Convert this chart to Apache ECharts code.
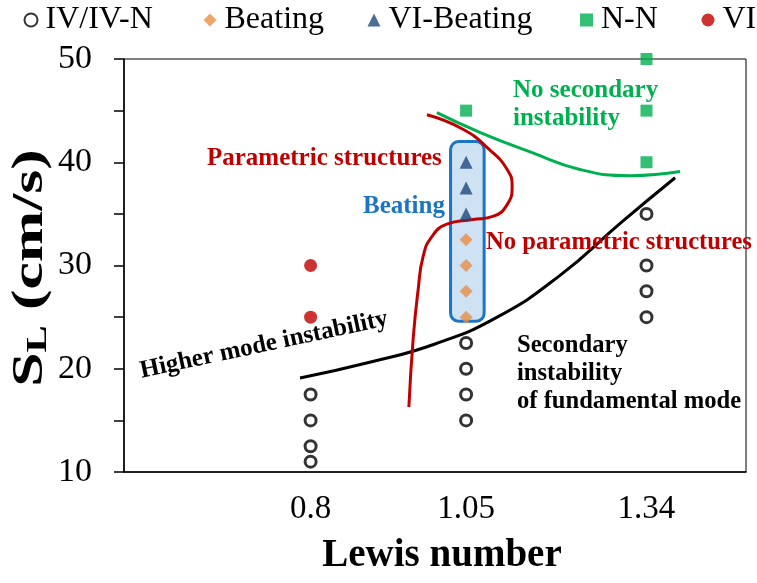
<!DOCTYPE html>
<html>
<head>
<meta charset="utf-8">
<script src="https://cdn.jsdelivr.net/npm/echarts@6/dist/echarts.min.js"></script>
<style>html,body{margin:0;padding:0;background:#fff}#c{width:757px;height:583px}</style>
</head>
<body>
<div id="c"></div>
<script>
// ---- data ----
const xTicks = [0.8, 1.05, 1.34];
const seriesNames = ['IV/IV-N', 'Beating', 'VI-Beating', 'N-N', 'VI'];
const ivData = [[0.8,17.5],[0.8,15],[0.8,12.5],[0.8,11],[1.05,22.5],[1.05,20],[1.05,17.5],[1.05,15],[1.34,35],[1.34,30],[1.34,27.5],[1.34,25]];
const beatingData = [[1.05,32.5],[1.05,30],[1.05,27.5],[1.05,25]];
const viBeatingData = [[1.05,40],[1.05,37.5],[1.05,35]];
const nnData = [[1.05,45],[1.34,50],[1.34,45],[1.34,40]];
const viData = [[0.8,30],[0.8,25]];
// boundary curves
const blackCurve = [[0.783,19.1],[0.9,20.7],[1.0,22.4],[1.1,25.0],[1.2,29.0],[1.3,34.2],[1.386,38.5]];
const greenCurve = [[1.003,44.8],[1.072,42.9],[1.153,41.0],[1.233,39.3],[1.314,38.7],[1.394,39.1]];
const redCurve = [[0.987,44.6],[1.045,43.2],[1.088,41.2],[1.116,39.3],[1.124,37.7],[1.116,35.9],[1.093,34.75],[1.061,34.45],[1.019,34.0],[0.995,32.8],[0.981,30.9],[0.973,27.7],[0.965,23.0],[0.958,16.3]];
const beatingBox = [[1.025, 24.6, 1.079, 42.0]];

const serif = "'Liberation Serif','Times New Roman',serif";
const chart = echarts.init(document.getElementById('c'));
function txt(text, x, y, color, size) {
  return {
    type: 'text', x: x, y: y, z: 100,
    style: { text: text, fill: color, font: 'bold ' + size + 'px ' + serif,
             align: 'left', verticalAlign: 'middle', lineHeight: 28 }
  };
}
const legendLefts = [23.5, 203.5, 367.5, 580, 701.5];
chart.setOption({
  animation: false,
  grid: { left: 124, right: 11, top: 59, bottom: 111, show: true, borderColor: '#000', borderWidth: 1 },
  legend: seriesNames.map((n, i) => ({
    data: [n], left: legendLefts[i], top: 4, itemWidth: 13, itemHeight: 13, padding: 0,
    textStyle: { fontFamily: serif, fontSize: 32, color: '#000', padding: [0, 0, 0, 3] }
  })),
  xAxis: {
    type: 'value', min: 0.5, max: 1.5,
    name: 'Lewis number', nameLocation: 'middle', nameGap: 64,
    nameTextStyle: { fontFamily: serif, fontSize: 39, fontWeight: 'bold', color: '#000', padding: [0, 0, 0, 14] },
    axisLine: { show: true, lineStyle: { color: '#000', width: 1.5 } },
    axisTick: { show: false },
    splitLine: { show: false },
    axisLabel: { customValues: xTicks, formatter: v => String(v), margin: 21, fontFamily: serif, fontSize: 33, color: '#000' }
  },
  yAxis: {
    type: 'value', min: 10, max: 50, interval: 5,
    axisLine: { show: true, lineStyle: { color: '#000', width: 1.5 } },
    axisTick: { show: true, inside: false, length: 10, lineStyle: { color: '#000', width: 1.5 } },
    splitLine: { show: false },
    axisLabel: { formatter: v => (v % 10 === 0 ? String(v) : ''), margin: 32, fontFamily: serif, fontSize: 34, color: '#000' }
  },
  graphic: [
    { type: 'text', x: 31, y: 268, rotation: Math.PI / 2, scaleX: 1.4, scaleY: 1, z: 100,
      style: { text: '{a|S}{b|L}{a| (cm/s)}', align: 'center', verticalAlign: 'middle',
        rich: { a: { fill: '#000', fontSize: 44, fontWeight: 'bold', fontFamily: serif },
                b: { fill: '#000', fontSize: 29, fontWeight: 'bold', fontFamily: serif, verticalAlign: 'bottom', padding: [16, 0, 0, 0] } } } },
    txt('No secondary\ninstability', 513, 105, '#00B050', 25),
    txt('Parametric structures', 207, 159, '#C00000', 25),
    txt('Beating', 363, 207, '#1B75C4', 25),
    txt('No parametric structures', 486, 243, '#C00000', 24.6),
    { type: 'text', x: 264, y: 345, rotation: 0.21, z: 100,
      style: { text: 'Higher mode instability', fill: '#000', font: 'bold 25px ' + serif, align: 'center', verticalAlign: 'middle' } },
    txt('Secondary\ninstability\nof fundamental mode', 517, 374, '#000', 24.6)
  ],
  series: [
    { type: 'custom', name: 'box', z: 1, silent: true,
      renderItem: function (params, api) {
        const p0 = api.coord([api.value(0), api.value(3)]);
        const p1 = api.coord([api.value(2), api.value(1)]);
        return { type: 'rect', shape: { x: p0[0], y: p0[1], width: p1[0] - p0[0], height: p1[1] - p0[1], r: 8 },
                 style: { fill: '#cfe2f4', stroke: '#1B75C4', lineWidth: 3 } };
      },
      encode: { x: [0, 2], y: [1, 3] }, data: beatingBox },
    { type: 'line', name: 'black', data: blackCurve, smooth: true, showSymbol: false, z: 3, lineStyle: { color: '#000', width: 3 } },
    { type: 'line', name: 'green', data: greenCurve, smooth: true, showSymbol: false, z: 3, lineStyle: { color: '#00B050', width: 3 } },
    { type: 'line', name: 'red', data: redCurve, smooth: true, showSymbol: false, z: 3, lineStyle: { color: '#C00000', width: 3 } },
    { type: 'scatter', name: seriesNames[0], data: ivData, symbol: 'circle', symbolSize: 11, z: 5,
      itemStyle: { color: '#fff', borderColor: '#000', borderWidth: 3 } },
    { type: 'scatter', name: seriesNames[1], data: beatingData, symbol: 'diamond', symbolSize: 13, z: 5, itemStyle: { color: '#E98F45' } },
    { type: 'scatter', name: seriesNames[2], data: viBeatingData, symbol: 'triangle', symbolSize: 13, z: 5, itemStyle: { color: '#1F497D' } },
    { type: 'scatter', name: seriesNames[3], data: nnData, symbol: 'rect', symbolSize: 12, z: 5, itemStyle: { color: '#00B050' } },
    { type: 'scatter', name: seriesNames[4], data: viData, symbol: 'circle', symbolSize: 13, z: 5, itemStyle: { color: '#C00000' } }
  ]
});
</script>
</body>
</html>
